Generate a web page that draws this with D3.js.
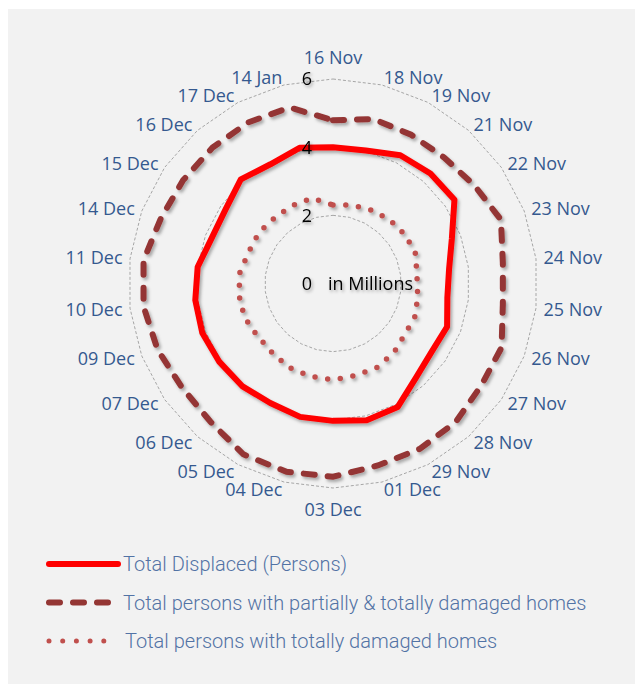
<!DOCTYPE html>
<meta charset="utf-8">
<html lang="en">
<head>
<style>
  body { margin: 0; background: #ffffff; }
  .cat { font-family: "Open Sans", sans-serif; font-size: 18px; fill: #35598f; }
  .tick { font-family: "Open Sans", sans-serif; font-size: 18px; fill: #000; }
  .legend text { font-family: Roboto, sans-serif; font-weight: 300; font-size: 20px; fill: #5273a5; }
</style>
</head>
<body>
<div id="chart"></div>
<script src="https://d3js.org/d3.v7.min.js"></script>
<script>
// categories (clockwise from top)
var dates = ["16 Nov","18 Nov","19 Nov","21 Nov","22 Nov","23 Nov","24 Nov","25 Nov","26 Nov",
  "27 Nov","28 Nov","29 Nov","01 Dec","03 Dec","04 Dec","05 Dec","06 Dec","07 Dec","09 Dec",
  "10 Dec","11 Dec","14 Dec","15 Dec","16 Dec","17 Dec","14 Jan"];

// values in millions
var displaced = [4.0,4.02,4.25,4.31,4.33,3.73,3.43,3.38,3.58,3.52,3.68,4.09,4.13,4.03,4.03,3.96,
  4.02,4.05,4.1,4.07,4.0,3.8,3.83,4.08,3.95,4.1];
var damagedAll = [4.79,4.97,4.93,4.93,5.05,5.27,5.02,5.02,5.29,5.28,5.43,5.48,5.5,5.67,5.69,5.66,
  5.42,5.38,5.5,5.6,5.6,5.4,5.34,5.33,5.34,5.32];
var damagedTotal = [2.3,2.37,2.43,2.5,2.55,2.58,2.48,2.5,2.6,2.58,2.7,2.78,2.78,2.83,2.8,2.78,
  2.7,2.7,2.78,2.78,2.75,2.64,2.64,2.58,2.58,2.58];

var rings = [0, 2, 4, 6];
var seriesNames = ["Total Displaced (Persons)",
  "Total persons with partially & totally damaged homes",
  "Total persons with totally damaged homes"];

var width = 635, height = 684;
var cx = 333, cy = 283.5;

var svg = d3.select("#chart").append("svg")
  .attr("width", width).attr("height", height);

var defs = svg.append("defs");
var f = defs.append("filter").attr("id", "shadow")
  .attr("x", "-20%").attr("y", "-20%").attr("width", "140%").attr("height", "140%");
f.append("feDropShadow").attr("dx", 2).attr("dy", 2.5).attr("stdDeviation", 1.8)
  .attr("flood-color", "#000").attr("flood-opacity", 0.3);
var g2 = defs.append("filter").attr("id", "glow")
  .attr("x", "-50%").attr("y", "-50%").attr("width", "200%").attr("height", "200%");
g2.append("feDropShadow").attr("dx", 1.5).attr("dy", 2).attr("stdDeviation", 1.5)
  .attr("flood-color", "#000").attr("flood-opacity", 0.35);

svg.append("rect").attr("x", 8).attr("y", 9).attr("width", width - 8).attr("height", height - 9)
  .attr("fill", "#f2f2f2");

var r = d3.scaleLinear().domain([0, 6]).range([0, 204.5]);
var angle = d3.scalePoint().domain(d3.range(dates.length)).range([0, 2 * Math.PI * (dates.length - 1) / dates.length]);

var g = svg.append("g").attr("transform", "translate(" + cx + "," + cy + ")");

var radial = d3.lineRadial()
  .angle(function (d, i) { return angle(i); })
  .radius(function (d) { return r(d); })
  .curve(d3.curveLinearClosed);

// grid rings
g.selectAll(".ring").data(rings.filter(function (v) { return v > 0; })).enter()
  .append("path")
  .attr("d", function (v) { return radial(dates.map(function () { return v; })); })
  .attr("fill", "none").attr("stroke", "#a6a6a6").attr("stroke-width", 1)
  .attr("stroke-dasharray", "3,2");

// series
g.append("path").datum(damagedTotal).attr("d", radial)
  .attr("fill", "none").attr("stroke", "#c0504d").attr("stroke-width", 5.5)
  .attr("stroke-linecap", "round").attr("stroke-dasharray", "0,12.8")
  .attr("filter", "url(#shadow)");
g.append("path").datum(displaced).attr("d", radial)
  .attr("fill", "none").attr("stroke", "#ff0000").attr("stroke-width", 6)
  .attr("stroke-linejoin", "round")
  .attr("filter", "url(#shadow)");
g.append("path").datum(damagedAll).attr("d", radial)
  .attr("fill", "none").attr("stroke", "#943634").attr("stroke-width", 6)
  .attr("stroke-linecap", "round").attr("stroke-dasharray", "11,13")
  .attr("filter", "url(#shadow)");

// ring values
g.selectAll(".tick").data(rings).enter().append("text")
  .attr("class", "tick")
  .attr("x", -21).attr("y", function (v) { return -r(v); })
  .attr("dy", "0.36em").attr("text-anchor", "end")
  .attr("filter", "url(#glow)")
  .text(function (v) { return v; });
g.append("text").attr("class", "tick")
  .attr("x", -5).attr("y", 0).attr("dy", "0.36em")
  .attr("filter", "url(#glow)")
  .text("in Millions");

// category labels
var labR = 212;
g.selectAll(".cat").data(dates).enter().append("text")
  .attr("class", "cat")
  .each(function (d, i) {
    var a = angle(i), s = Math.sin(a), c = Math.cos(a);
    var t = d3.select(this);
    if (Math.abs(s) < 0.05) {
      t.attr("x", 0).attr("y", -c * (labR + 14)).attr("text-anchor", "middle");
    } else {
      t.attr("x", s * labR).attr("y", -c * labR)
        .attr("text-anchor", s > 0 ? "start" : "end");
    }
    t.attr("dy", "0.36em").text(d);
  });

// legend
var leg = svg.append("g").attr("class", "legend");
var legStyles = [
  { stroke: "#ff0000", w: 6, dash: null, x2: 118 },
  { stroke: "#943634", w: 6, dash: "11,13", x2: 118 },
  { stroke: "#c0504d", w: 5, dash: "0,13.7", x2: 104 }
];
var legY = d3.scalePoint().domain(seriesNames).range([564, 641]);
seriesNames.forEach(function (name, i) {
  var st = legStyles[i], y = legY(name);
  leg.append("line").attr("x1", 49).attr("x2", st.x2).attr("y1", y).attr("y2", y)
    .attr("stroke", st.stroke).attr("stroke-width", st.w)
    .attr("stroke-linecap", "round").attr("stroke-dasharray", st.dash);
  leg.append("text").attr("x", i === 2 ? 125 : 123).attr("y", y).attr("dy", "0.35em").text(name);
});
</script>
</body>
</html>
